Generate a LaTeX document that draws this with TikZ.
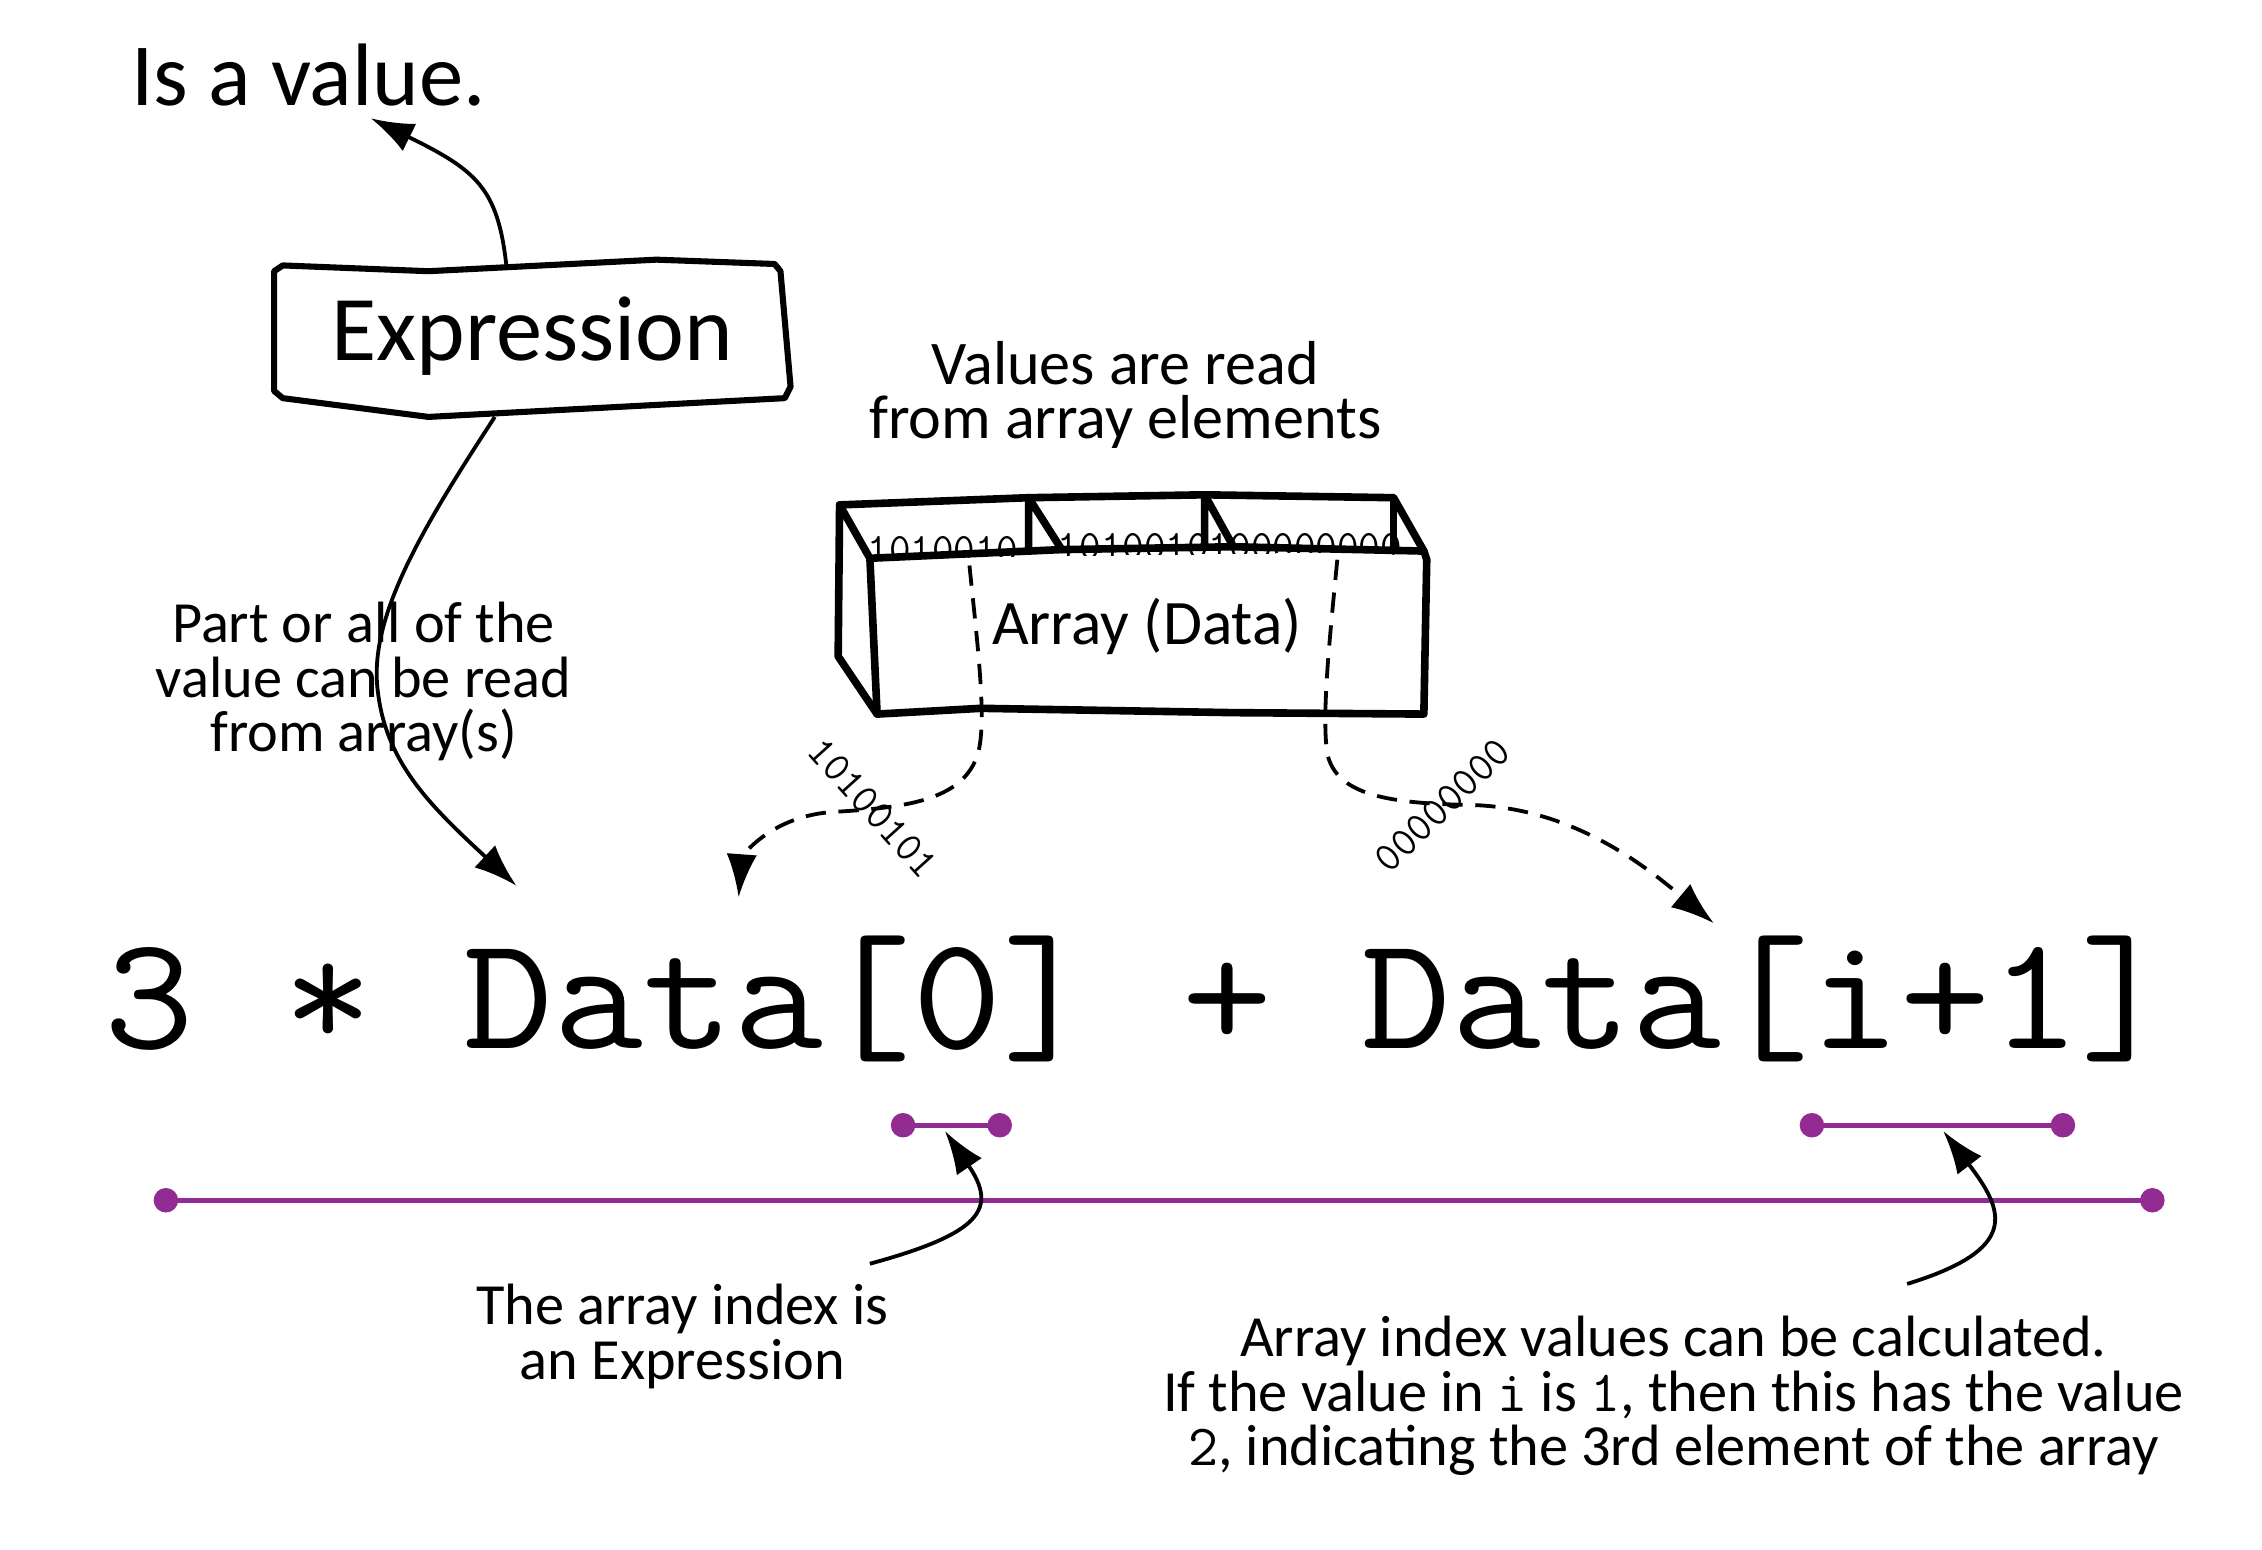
\documentclass[tikz,border=0pt]{standalone}
\usepackage{fontspec}
\usepackage{graphicx}
\setmainfont{Carlito}
\usetikzlibrary{positioning,arrows.meta}
\definecolor{spanpurple}{RGB}{146,43,146}
\tikzset{
  sketch/.style={line width=3pt, line join=round, line cap=round},
  note/.style={align=center, inner sep=0pt, anchor=base, font=\fontsize{23}{21.5}\selectfont},
  bits/.style={inner sep=0pt, anchor=base west, font=\ttfamily\fontsize{16.5}{16.5}\selectfont},
  arr/.style={line width=1.5pt, -{Latex[length=17pt,width=12pt]}},
  darr/.style={arr, dash pattern=on 8pt off 5pt},
  idxspan/.style={draw=spanpurple, line width=1.8pt},
}

\begin{document}
\begin{tikzpicture}[x=0.02cm,y=-0.02cm]
  \useasboundingbox (0,0) rectangle (1568,1074);
  % points the connectors start from and point at
  \coordinate (valtip) at (257,82);
  \coordinate (exprtop) at (351,184);
  \coordinate (exprbot) at (343,289);
  \coordinate (datatip) at (358,614);
  \coordinate (cellA) at (672,392);
  \coordinate (cellC) at (927,388);
  \coordinate (zerotip) at (512,622);
  \coordinate (nexttip) at (1188,640);
  \coordinate (zerofrom) at (603,876);
  \coordinate (zerospan) at (655,784);
  \coordinate (calcfrom) at (1322,890);
  \coordinate (calcspan) at (1347,784);
  % ends of the purple index spans
  \coordinate (s0) at (626,780); \coordinate (s1) at (693,780);
  \coordinate (i0) at (1256,780); \coordinate (i1) at (1430,780);
  \coordinate (e0) at (115,832); \coordinate (e1) at (1492,832);

  % the expression box, drawn by hand
  \draw[sketch,line width=2.4pt] (190,188) -- (196,184) -- (297,188) -- (455,180) -- (537,183) -- (541,188)
    -- (548,268) -- (544,276) -- (297,289) -- (196,276) -- (190,271) -- cycle;
  \node[anchor=base] (expr) at (369,250) {\fontsize{36.5}{36}\selectfont Expression};
  \node[anchor=base] (isval) at (214,73) {\fontsize{35}{35}\selectfont Is a value.};

  % the array, with its three cells seen from above
  \begin{scope}
    \clip (582,350) -- (713,345) -- (835,343) -- (966,345) -- (987,382) -- (603,387) -- cycle;
    \node[bits] (bitsA) at (601,390) {1010010};
    \node[bits] (bitsB) at (733,388) {10100101};
    \node[bits] (bitsC) at (852,388) {00000000};
  \end{scope}
  \draw[sketch] (582,350) -- (713,345) -- (835,343) -- (966,345) -- (987,382);
  \draw[sketch] (582,350) -- (603,387) -- (735,381) -- (855,379) -- (987,382);
  \draw[sketch] (582,350) -- (581,455) -- (608,495);
  \draw[sketch] (603,387) -- (608,495) -- (680,491) -- (855,494) -- (987,495) -- (989,388) -- (987,382);
  \foreach \bx/\by/\fx/\fy in {713/345/736/381, 835/343/855/379}
    \draw[sketch] (\bx,\by) -- (\bx,\fy) (\bx,\by) -- (\fx,\fy);
  \draw[sketch] (966,345) -- (966,382);
  \node[anchor=base,inner sep=0pt,font=\fontsize{25}{25}\selectfont] (arr) at (795,447) {Array (Data)};
  \node[note, font=\fontsize{24.5}{21.5}\selectfont, above=2.06cm of arr, xshift=-0.3cm] (valsnote)
    {Values are read\\from array elements};

  % values flow out of the array along dashed lines
  \draw[darr] (cellA) .. controls (678,450) and (684,500) .. (678,522)
    .. controls (668,556) and (625,560) .. (575,563) .. controls (532,567) and (514,595) .. (zerotip);
  \draw[darr] (cellC) .. controls (922,440) and (916,495) .. (920,522)
    .. controls (926,552) and (965,557) .. (1020,558) .. controls (1090,560) and (1140,600) .. (nexttip);
  \node[bits,anchor=center,rotate=-48] (bitsout) at (605,560) {10100101};
  \node[bits,anchor=center,rotate=44] (zerosout) at (1000,558) {00000000};

  % the expression itself
  \node[anchor=base west,inner sep=0pt,font=\ttfamily\fontsize{64}{66}\selectfont] (code) at (72,727)
    {\scalebox{1.075}[1]{3 * Data[0] + Data[i+1]}};

  % index spans underneath
  \draw[idxspan] (s0) -- (s1);
  \draw[idxspan] (i0) -- (i1);
  \draw[idxspan] (e0) -- (e1);
  \foreach \p in {(s0),(s1),(i0),(i1),(e0),(e1)} \fill[spanpurple] \p circle[radius=0.17cm];

  % solid connectors
  \draw[arr] (exprtop) .. controls (345,130) and (330,118) .. (valtip);
  \draw[arr] (exprbot) .. controls (290,370) and (255,430) .. (262,480)
    .. controls (268,530) and (300,560) .. (datatip);
  \draw[arr] (zerofrom) .. controls (680,855) and (692,838) .. (zerospan);
  \draw[arr] (calcfrom) .. controls (1400,866) and (1390,840) .. (calcspan);

  % notes
  \node[note] (partnote) at (252,521) {Part or all of the\\value can be read\\from array(s)};
  \node[note] (idxnote) at (473,956) {The array index is\\an Expression};
  \node[note] (calcnote) at (1160,1016) {Array index values can be calculated.\\If the value in \texttt{i} is \texttt{1}, then this has the value\\\texttt{2}, indicating the 3rd element of the array};
\end{tikzpicture}
\end{document}
